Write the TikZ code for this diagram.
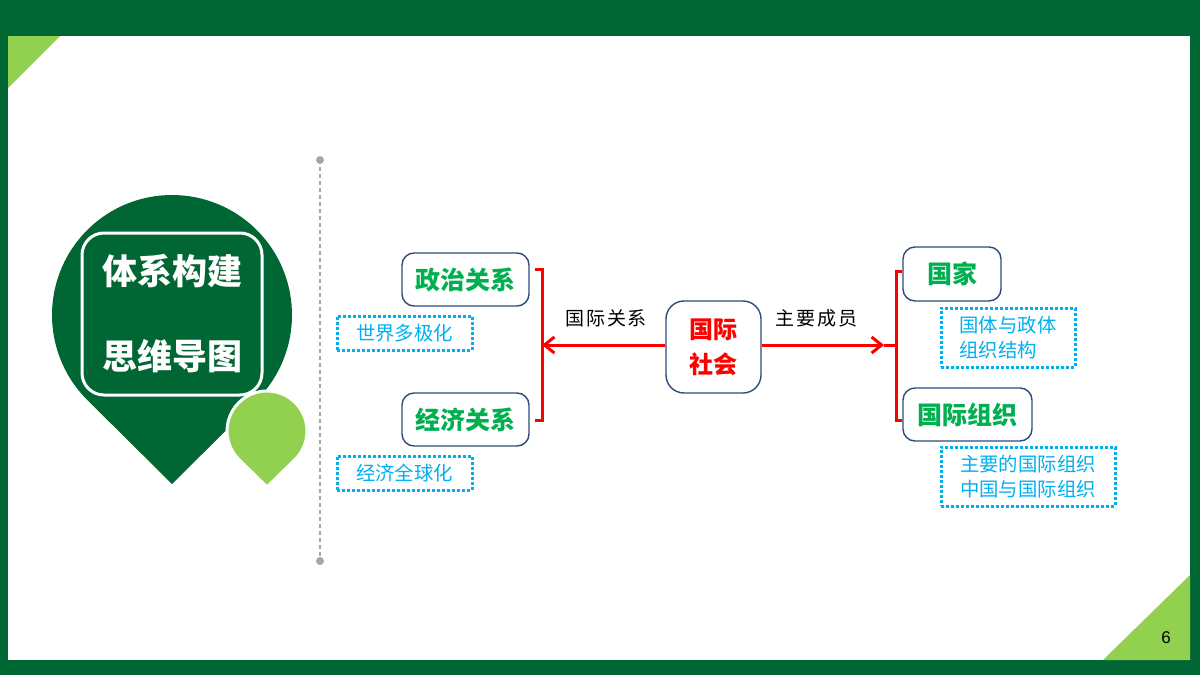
\documentclass[tikz,border=0pt]{standalone}
\usepackage{fontspec}
\setmainfont{Liberation Sans}
\newfontfamily\cjk{Noto Sans CJK SC}
\newfontfamily\cjkwide{Noto Sans CJK SC}[LetterSpace=10]
\usetikzlibrary{arrows.meta,calc}
\definecolor{DarkGreen}{RGB}{0,102,51}
\definecolor{LightGreen}{RGB}{146,208,80}
\definecolor{TextGreen}{RGB}{0,176,80}
\definecolor{SkyBlue}{RGB}{0,176,240}
\definecolor{BoxBlue}{RGB}{47,75,120}
\definecolor{LineGray}{RGB}{166,166,166}

\begin{document}
\begin{tikzpicture}[x=0.5pt, y=-0.5pt,
  topic/.style={draw=BoxBlue, line width=0.7pt, rounded corners=6pt, fill=white, text=TextGreen, font=\cjk\bfseries\fontsize{12.5}{15}\selectfont, inner sep=0pt},
  note/.style={draw=SkyBlue, line width=1.5pt, dash pattern=on 1.5pt off 1pt, text=SkyBlue, font=\cjk\fontsize{9.7}{12.5}\selectfont, inner sep=0pt},
  brace/.style={draw=red, line width=1.5pt},
  link/.style={brace, -{Straight Barb[length=5pt, width=8pt, line width=1.5pt]}},
  tag/.style={font=\cjkwide\fontsize{9.5}{11}\selectfont, text=black}]
\useasboundingbox (0,0) rectangle (1200,675);

% frame
\fill[DarkGreen] (0,0) rectangle (1200,675);
\fill[white] (8,36) rectangle (1190,660);
\fill[LightGreen] (8,36) -- (60,36) -- (8,88) -- cycle;
\fill[LightGreen] (1190,575) -- (1190,660) -- (1103,660) -- cycle;
\node[font=\fontsize{8.5}{10}\selectfont] (page) at (1166,638) {6};

% title drop
\fill[DarkGreen] (172,484) -- ($(172,315)+(45.2:120)$) arc[start angle=45.2, end angle=-225.2, radius=120] -- cycle;
\node[draw=white, line width=1.5pt, rounded corners=11pt, minimum width=90pt, minimum height=81pt, text=white, align=center, font=\cjk\bfseries\fontsize{17.5}{42.5}\selectfont] (title) at (172,314) {体系构建\\思维导图};
\filldraw[fill=LightGreen, draw=white, line width=1.5pt] (267,487) -- ($(267,431)+(45.6:40)$) arc[start angle=45.6, end angle=-225.6, radius=40] -- cycle;

% divider
\coordinate (dtop) at (320,160);
\coordinate (dbot) at (320,561);
\draw[LineGray, line width=0.6pt, dash pattern=on 2pt off 1.5pt] (dtop) -- (dbot);
\fill[LineGray] (dtop) circle (4);
\fill[LineGray] (dbot) circle (4);

% centre
\node[draw=BoxBlue, line width=0.7pt, rounded corners=9pt, fill=white, minimum width=47.5pt, minimum height=46pt, text=red, align=center, font=\cjk\bfseries\fontsize{12}{17.5}\selectfont] (soc) at (713.5,347) {国际\\社会};

% left side
\node[topic, minimum width=63.5pt, minimum height=26.5pt] (pol) at (465.5,279.5) {政治关系};
\node[topic, minimum width=63.5pt, minimum height=26.5pt] (eco) at (465.5,419.5) {经济关系};
\node[note, minimum width=67.5pt, minimum height=17pt] (multi) at (404.5,333) {世界多极化};
\node[note, minimum width=67.5pt, minimum height=17pt] (glob) at (404.5,473) {经济全球化};

% right side
\node[topic, minimum width=49pt, minimum height=27pt] (state) at (952,274) {国家};
\node[topic, minimum width=64.5pt, minimum height=26.5pt] (org) at (967.5,414.5) {国际组织};
\node[note, minimum width=67pt, minimum height=29.5pt, align=left] (form) at (1008,337.5) {国体与政体\\组织结构};
\node[note, minimum width=87pt, minimum height=29.5pt, align=left] (orglist) at (1028,476.5) {主要的国际组织\\中国与国际组织};

% brackets
\coordinate (lmid) at (542,345);
\coordinate (rtip) at (884,345);
\coordinate (rmid) at (896,345);
\draw[brace] (535,269) -- (542,269) -- (542,420) -- (535,420);
\draw[brace] (state.west |- 0,271) -- (896,271) -- (896,420) -- (org.west |- 0,420);

\draw[link] (soc.west |- lmid) -- node[tag, above=5pt, pos=0.48] (rel) {国际关系} (lmid);
\draw[link] (soc.east |- rtip) -- node[tag, above=5pt, pos=0.45] (mem) {主要成员} (rtip);
\draw[brace] (rtip) -- (rmid);
\end{tikzpicture}
\end{document}
